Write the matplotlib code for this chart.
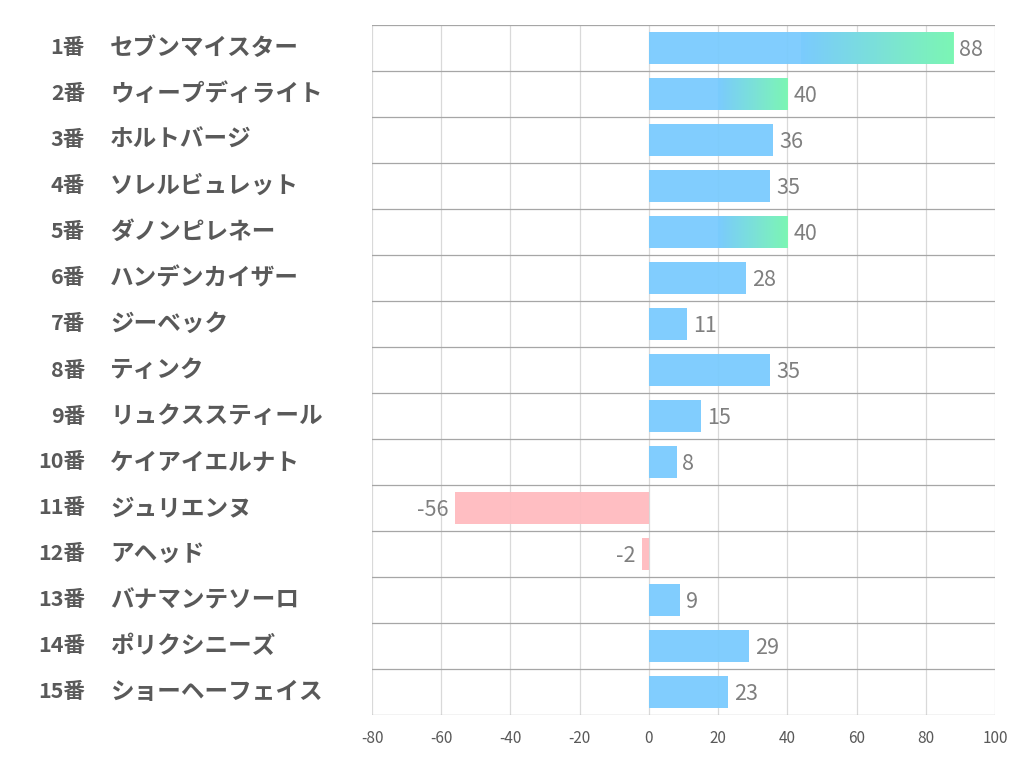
import matplotlib
matplotlib.use("Agg")
import matplotlib.pyplot as plt
import numpy as np
from matplotlib.colors import LinearSegmentedColormap

plt.rcParams['font.family'] = ['Noto Sans CJK JP', 'DejaVu Sans']

numbers = ["1番", "2番", "3番", "4番", "5番", "6番", "7番", "8番", "9番", "10番",
           "11番", "12番", "13番", "14番", "15番"]
names = ["セブンマイスター", "ウィープディライト", "ホルトバージ", "ソレルビュレット", "ダノンピレネー",
         "ハンデンカイザー", "ジーベック", "ティンク", "リュクススティール", "ケイアイエルナト",
         "ジュリエンヌ", "アヘッド", "バナマンテソーロ", "ポリクシニーズ", "ショーヘーフェイス"]
values = [88, 40, 36, 35, 40, 28, 11, 35, 15, 8, -56, -2, 9, 29, 23]
highlight = [True, True, False, False, True, False, False, False, False, False,
             False, False, False, False, False]
xticks = [-80, -60, -40, -20, 0, 20, 40, 60, 80, 100]

BLUE = "#7ACBFE"
GREEN = "#7CF9B0"
PINK = "#FFBBBF"

fig = plt.figure(figsize=(10.22, 7.82), dpi=100)
ax = fig.add_axes([372/1022, 1-715/782, (995-372)/1022, (715-25)/782])

n = len(values)
h = 0.68

for x in xticks:
    ax.axvline(x, color="#d9d9d9", lw=0.9, zorder=0)
for k in range(n + 1):
    ax.axhline(k - 0.5, color="#a6a6a6", lw=0.9, zorder=0.5)

cmap = LinearSegmentedColormap.from_list("bg", [BLUE, GREEN])
for i, (v, hl) in enumerate(zip(values, highlight)):
    col = BLUE if v >= 0 else PINK
    ax.barh(i, v, height=h, color=col, alpha=0.95, zorder=2, linewidth=0)
    if hl:
        start = v * 0.5
        grad = np.linspace(0, 1, 256).reshape(1, -1)
        ax.imshow(grad, cmap=cmap, aspect="auto", extent=[start, v, i + h/2, i - h/2],
                  zorder=2.5, alpha=0.95, interpolation="bilinear")
    if v >= 0:
        ax.text(v + 1.7, i + 0.05, str(v), ha="left", va="center", fontsize=15.5,
                color="#7f7f7f", zorder=3)
    else:
        ax.text(v - 2.0, i + 0.05, str(v), ha="right", va="center", fontsize=15.5,
                color="#7f7f7f", zorder=3)

ax.set_xlim(-80, 100)
ax.set_ylim(n - 0.5, -0.5)
ax.set_xticks(xticks)
ax.set_xticklabels([str(t) for t in xticks], fontsize=11, color="#595959")
ax.set_yticks([])
ax.tick_params(axis="x", length=0, pad=11)
for s in ax.spines.values():
    s.set_visible(False)

for i in range(n):
    y = 25 + 46 * i + 23
    fig.text(85/1022, 1 - y/782, numbers[i], ha="right", va="center", fontsize=15.5,
             fontweight="bold", color="#595959")
    fig.text(110/1022, 1 - y/782, names[i], ha="left", va="center", fontsize=17,
             fontweight="bold", color="#595959")

fig.savefig("out.png", dpi=100, facecolor="white")
